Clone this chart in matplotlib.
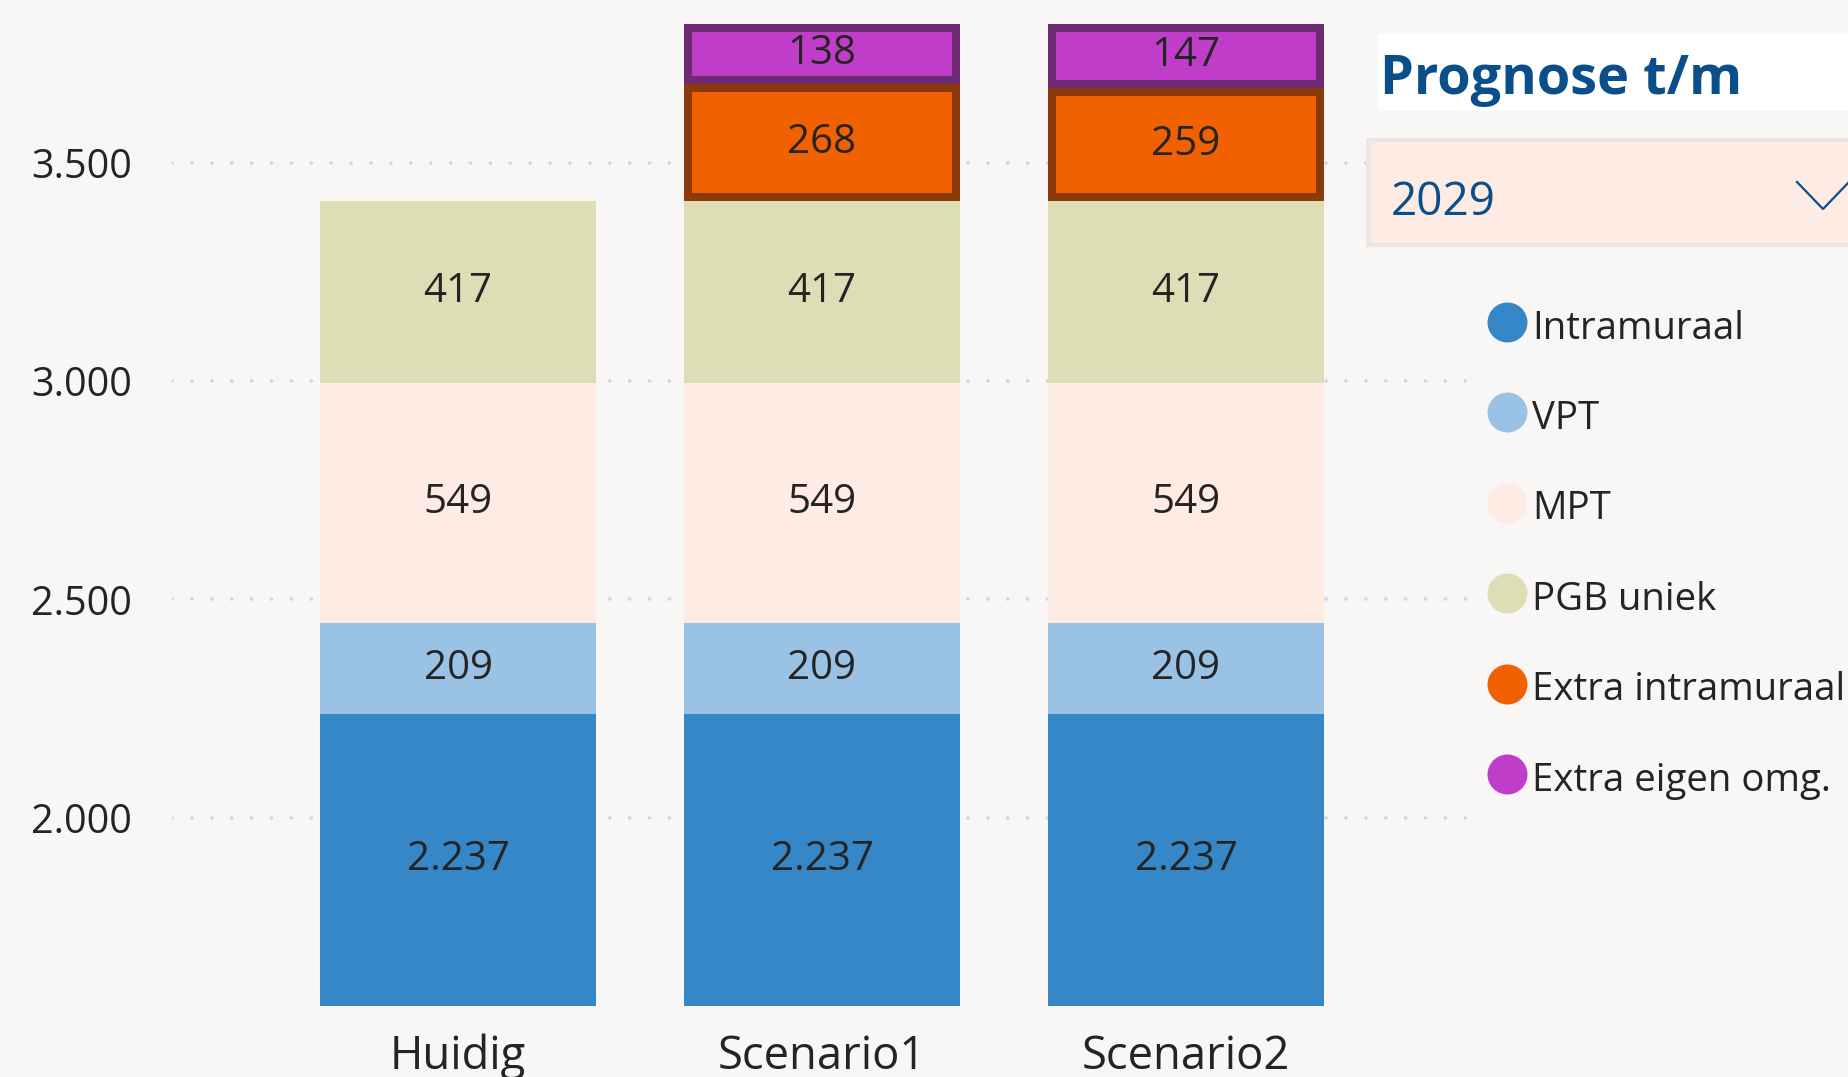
import numpy as np
import matplotlib
matplotlib.use('Agg')
import matplotlib.pyplot as plt
import matplotlib.patches as mpatches
from matplotlib.lines import Line2D
from matplotlib.ticker import FuncFormatter

# data
aCategory = ['Huidig', 'Scenario1', 'Scenario2']
aIntramuraal = [2237, 2237, 2237]
aVPT = [209, 209, 209]
aMPT = [549, 549, 549]
aPGB = [417, 417, 417]
aExtra_intramuraal = [0, 268, 259]
aExtra_eigen = [0, 138, 147]
aSeries_name = ['Intramuraal', 'VPT', 'MPT', 'PGB uniek', 'Extra intramuraal', 'Extra eigen omg.']
aTick = [2000, 2500, 3000, 3500]
sYear = '2029'
sTitle = 'Prognose t/m'

aSeries = [aIntramuraal, aVPT, aMPT, aPGB, aExtra_intramuraal, aExtra_eigen]
aColor = ['#3587C8', '#99C2E4', '#FEEBE4', '#DEDEB6', '#F26100', '#C03DC9']
aEdge = [None, None, None, None, '#8A3A0C', '#6E2B73']

sBackground = '#F8F7F5'
sText = '#252423'
sBlue = '#0B4F8A'

plt.rcParams['font.family'] = ['Open Sans', 'DejaVu Sans']

W, H = 1849, 1077
def fx(px):
    return px / W
def fy(py):
    return 1 - py / H

def dot_format(v):
    return f'{int(v):,}'.replace(',', '.')

fig = plt.figure(figsize=(18.49, 10.77), dpi=100, facecolor=sBackground)
ax = fig.add_axes([fx(172), fy(1006), fx(1476) - fx(172), fy(0) - fy(1006)])
ax.set_facecolor(sBackground)

x = np.arange(len(aCategory))
bottom = np.zeros(len(aCategory))
for values, color, edge in zip(aSeries, aColor, aEdge):
    values = np.array(values, dtype=float)
    bars = ax.bar(x, values, width=0.758, bottom=bottom, color=color, linewidth=0, zorder=2)
    for b, v in zip(bars, values):
        if v <= 0:
            b.set_visible(False)
        elif edge is not None:
            # border drawn inside the bar
            b.set_edgecolor(edge)
            b.set_linewidth(11.5)
            b.set_clip_path(b)
    labels = [dot_format(v) if v > 0 else '' for v in values]
    ax.bar_label(bars, labels=labels, label_type='center', fontsize=29, color=sText)
    bottom += values

ax.set_xlim(-0.786, 2.797)
ax.set_ylim(1568.5, 3872.7)
ax.set_xticks(x)
ax.set_xticklabels(aCategory)
ax.set_yticks(aTick)
ax.yaxis.set_major_formatter(FuncFormatter(lambda v, p: dot_format(v)))
ax.tick_params(axis='y', length=0, pad=28.8, labelsize=28.5, labelcolor=sText)
ax.tick_params(axis='x', length=0, pad=20, labelsize=32.7, labelcolor=sText)
ax.set_axisbelow(True)
ax.yaxis.grid(True, color='#D3D1EA', linewidth=2.6, linestyle=(0, (0.01, 5.5)), dash_capstyle='round')
ax.xaxis.grid(False)
for s in ax.spines.values():
    s.set_visible(False)

# slicer title
fig.add_artist(mpatches.Rectangle((fx(1378), fy(110.7)), 1, fy(34) - fy(110.7),
                                  transform=fig.transFigure, facecolor='white', edgecolor='none', zorder=5))
fig.text(fx(1380), fy(94.3), sTitle, fontsize=39, fontweight='bold', color=sBlue, va='baseline', zorder=6)

# dropdown
fig.add_artist(mpatches.Rectangle((fx(1368), fy(244.7)), 1, fy(139.7) - fy(244.7),
                                  transform=fig.transFigure, facecolor='#FDEBE4', edgecolor='#E9E7E5',
                                  linewidth=2.9, zorder=5))
fig.text(fx(1391), fy(215), sYear, fontsize=33, color=sBlue, va='baseline', zorder=6)
fig.add_artist(Line2D([fx(1797), fx(1823), fx(1849)], [fy(182), fy(209), fy(182)],
                      color=sBlue, linewidth=1.6, transform=fig.transFigure, zorder=6))

# legend
for i, (name, color) in enumerate(zip(aSeries_name, aColor)):
    cy = 322 + i * 90.4
    fig.add_artist(Line2D([fx(1507)], [fy(cy)], marker='o', markersize=28.8, color=color,
                          markeredgewidth=0, linestyle='none', transform=fig.transFigure, zorder=6))
    fig.text(fx(1532), fy(cy + 16.5), name, fontsize=27.6, color=sText, va='baseline', zorder=6)

plt.savefig('out.png', dpi=100, facecolor=sBackground)
